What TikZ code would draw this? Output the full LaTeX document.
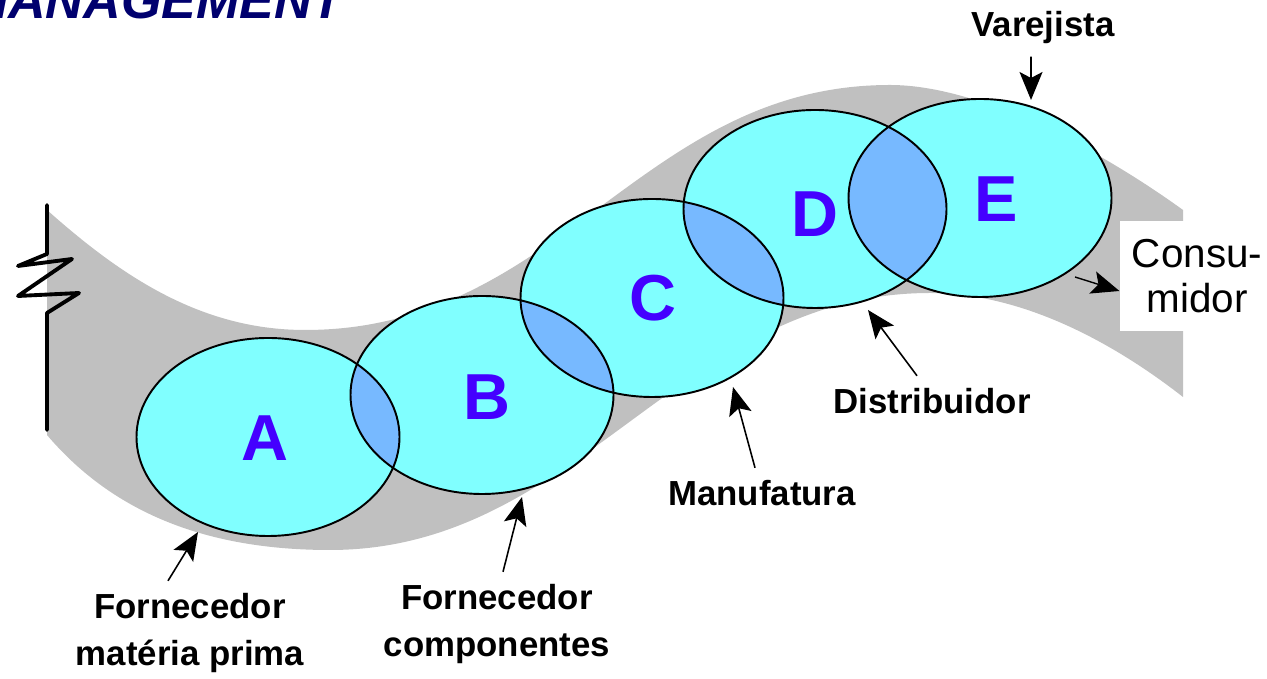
\documentclass[tikz,border=0pt]{standalone}
\usepackage{fontspec}
\setmainfont{Liberation Sans}
\usetikzlibrary{shapes.geometric,arrows.meta}
\definecolor{bandgray}{RGB}{192,192,192}
\definecolor{stagecyan}{RGB}{128,255,255}
\definecolor{overlapblue}{RGB}{119,185,255}
\definecolor{letterblue}{RGB}{68,0,255}
\definecolor{titlenavy}{RGB}{0,0,110}
\tikzset{
  stage/.style={ellipse, fill=stagecyan, minimum width=26.3mm, minimum height=19.8mm, inner sep=0pt},
  letter/.style={font=\fontsize{18.5}{18.5}\selectfont\bfseries, text=letterblue},
  caption/.style={font=\fontsize{9.9}{13.4}\selectfont\bfseries, align=center},
  pointer/.style={-{Stealth[length=2.8mm,width=2.3mm,inset=0.6mm]}, line width=0.45pt},
}
\begin{document}
\begin{tikzpicture}[x=0.1mm, y=-0.1mm]
  \useasboundingbox (0,0) rectangle (1267,679);

  % Title
  \node[font=\fontsize{14.8}{14.8}\selectfont\bfseries\itshape, text=titlenavy, anchor=base east] (title) at (356,19) {MANAGEMENT};

  % Band
  \fill[bandgray] (47,210) .. controls (120,275) and (200,330) .. (305,330)
    .. controls (560,330) and (640,85) .. (890,85)
    .. controls (980,85) and (1100,150) .. (1183,210)
    -- (1183,397)
    .. controls (1110,340) and (1020,293) .. (930,293)
    .. controls (680,293) and (580,550) .. (330,550)
    .. controls (210,550) and (115,515) .. (47,435) -- cycle;
  \draw[line width=1.1pt, line join=round, line cap=round] (47,205) -- (47,254) -- (18,266) -- (72,259) -- (18,296)
    -- (79,293) -- (47,313) -- (47,430);

  % Stages
  \node[stage] (a) at (268,437) {};
  \node[stage] (b) at (482,395) {};
  \node[stage] (c) at (652,298) {};
  \node[stage] (d) at (815,209) {};
  \node[stage] (e) at (980,198) {};
  \foreach \p/\q in {a/b, b/c, c/d, d/e} {
    \begin{scope}
      \clip (\p.center) ellipse [x radius=131.5, y radius=99];
      \fill[overlapblue] (\q.center) ellipse [x radius=131.5, y radius=99];
    \end{scope}
  }
  \foreach \n in {a,...,e}
    \draw[line width=0.55pt] (\n.center) ellipse [x radius=131.5, y radius=99];

  \node[letter] (la) at (265,438) {A};
  \node[letter] (lb) at (487,397) {B};
  \node[letter] (lc) at (653,298) {C};
  \node[letter] (ld) at (815,214) {D};
  \node[letter] (le) at (996,199) {E};

  % Captions
  \node[caption] (fmp) at (190,633) {Fornecedor\\matéria prima};
  \node[caption] (fco) at (497,624) {Fornecedor\\componentes};
  \node[caption] (man) at (762,493) {Manufatura};
  \node[caption] (dis) at (932,401) {Distribuidor};
  \node[caption] (var) at (1043,28) {Varejista};
  \node[fill=white, font=\fontsize{11.5}{13}\selectfont, align=center,
    minimum width=15mm, minimum height=11mm] (con) at (1197,276) {Consu-\\midor};

  % Pointers
  \coordinate (tfmp) at (198,532);
  \coordinate (tfco) at (522,497);
  \coordinate (tman) at (733,387);
  \coordinate (tdis) at (868,310);
  \coordinate (tvar) at (1031,100);
  \coordinate (econ) at (1075,277);
  \draw[pointer] ([xshift=-2.2mm]fmp.north) -- (tfmp);
  \draw[pointer] ([xshift=0.6mm]fco.north) -- (tfco);
  \draw[pointer] ([xshift=-0.7mm]man.north) -- (tman);
  \draw[pointer] ([xshift=-1.5mm]dis.north) -- (tdis);
  \draw[pointer] ([xshift=-1.2mm]var.south) -- (tvar);
  \draw[pointer, line width=0.4pt] (econ) -- ([yshift=-1.5mm]con.west);
\end{tikzpicture}
\end{document}
